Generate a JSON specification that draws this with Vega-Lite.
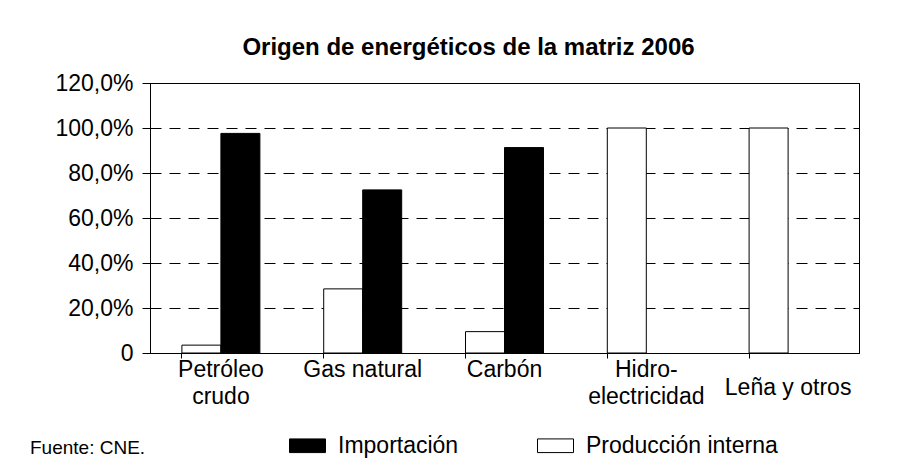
{
  "$schema": "https://vega.github.io/schema/vega-lite/v6.json",
  "width": 709,
  "height": 270,
  "autosize": {"type": "none"},
  "padding": {"left": 150, "top": 83, "right": 53, "bottom": 108},
  "background": "white",
  "title": {
    "text": "Origen de energéticos de la matriz 2006",
    "font": "Liberation Sans",
    "fontSize": 24,
    "fontWeight": "bold",
    "color": "black",
    "anchor": "middle",
    "dx": -36,
    "offset": 12
  },
  "data": {
    "values": [
      {"energetico": "Petróleo crudo", "origen": "Producción interna", "valor": 3.5},
      {"energetico": "Petróleo crudo", "origen": "Importación", "valor": 97.6},
      {"energetico": "Gas natural", "origen": "Producción interna", "valor": 28.5},
      {"energetico": "Gas natural", "origen": "Importación", "valor": 72.5},
      {"energetico": "Carbón", "origen": "Producción interna", "valor": 9.5},
      {"energetico": "Carbón", "origen": "Importación", "valor": 91.3},
      {"energetico": "Hidroelectricidad", "origen": "Producción interna", "valor": 100},
      {"energetico": "Leña y otros", "origen": "Producción interna", "valor": 100}
    ]
  },
  "mark": {"type": "bar", "stroke": "black", "strokeWidth": 1},
  "encoding": {
    "x": {
      "field": "energetico",
      "type": "nominal",
      "sort": ["Petróleo crudo", "Gas natural", "Carbón", "Hidroelectricidad", "Leña y otros"],
      "scale": {"paddingInner": 0.45, "paddingOuter": 0.225},
      "axis": {
        "title": null,
        "labelAngle": 0,
        "bandPosition": 0,
        "labelExpr": "datum.label == 'Petróleo crudo' ? ['Petróleo', 'crudo'] : datum.label == 'Hidroelectricidad' ? ['Hidro-', 'electricidad'] : datum.label",
        "labelFont": "Liberation Sans",
        "labelFontSize": 23,
        "labelColor": "black",
        "labelBaseline": "top",
        "labelLineHeight": 27,
        "labelPadding": {"condition": {"test": "datum.value == 'Leña y otros'", "value": 18}, "value": 0},
        "labelOverlap": false,
        "labelLimit": 300,
        "tickSize": 5,
        "tickColor": "black",
        "domainColor": "black",
        "grid": false
      }
    },
    "xOffset": {
      "field": "origen",
      "type": "nominal",
      "sort": ["Producción interna", "Importación"],
      "scale": {"domain": ["Producción interna", "Importación"], "paddingInner": 0, "paddingOuter": 0}
    },
    "y": {
      "field": "valor",
      "type": "quantitative",
      "scale": {"domain": [0, 120], "nice": false},
      "axis": {
        "title": null,
        "values": [0, 20, 40, 60, 80, 100, 120],
        "labelExpr": "datum.value == 0 ? '0' : replace(format(datum.value, '.1f'), '.', ',') + '%'",
        "labelFont": "Liberation Sans",
        "labelFontSize": 23,
        "labelColor": "black",
        "labelPadding": 9,
        "tickSize": 8,
        "tickColor": "black",
        "domainColor": "black",
        "grid": true,
        "gridColor": "black",
        "gridDash": [11, 8],
        "gridWidth": 1,
        "gridOpacity": 1
      }
    },
    "fill": {
      "field": "origen",
      "type": "nominal",
      "scale": {"domain": ["Importación", "Producción interna"], "range": ["black", "white"]},
      "legend": {
        "orient": "none",
        "legendX": -120,
        "legendY": 344,
        "direction": "horizontal",
        "title": "Fuente: CNE.",
        "titleOrient": "left",
        "titleAnchor": "end",
        "titleFont": "Liberation Sans",
        "titleFontSize": 19,
        "titleFontWeight": "normal",
        "titleColor": "black",
        "titlePadding": 143,
        "titleBaseline": "bottom",
        "labelFont": "Liberation Sans",
        "labelFontSize": 23,
        "labelColor": "black",
        "labelOffset": 12,
        "labelLimit": 400,
        "columnPadding": 76,
        "symbolType": "M-1,-0.38H1V0.38H-1Z",
        "symbolSize": 1296,
        "symbolStrokeColor": "black",
        "symbolStrokeWidth": 1
      }
    }
  },
  "config": {
    "view": {"stroke": "black", "strokeWidth": 1},
    "font": "Liberation Sans"
  }
}
